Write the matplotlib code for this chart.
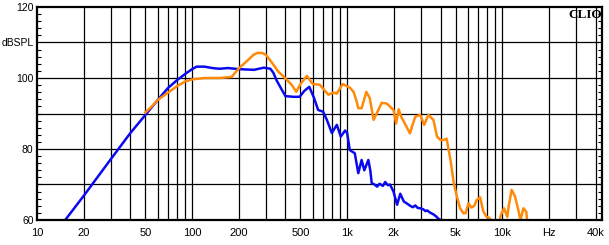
import matplotlib
matplotlib.use("Agg")
import matplotlib.pyplot as plt
from matplotlib.ticker import FixedLocator, NullFormatter

# ---- data ----
blue_f = [15.2, 20, 30, 40, 50, 60, 70, 80, 90, 100, 107, 120, 135, 150, 170, 200, 250, 290,
          320, 335, 350, 380, 400, 450, 494, 530, 570, 610, 650, 700, 740, 797, 830, 858, 910, 970,
          1000, 1040, 1120, 1180, 1240, 1290, 1370, 1410, 1440, 1500, 1560, 1620, 1700, 1760,
          1830, 1890, 1990, 2100, 2200, 2320, 2420, 2550, 2650, 2750, 2850, 2960, 3100, 3200,
          3280, 3450, 3600, 3750, 3870, 4050]
blue_db = [60.0, 66.8, 77.2, 84.5, 89.6, 93.8, 97.2, 99.4, 101.1, 102.5, 103.2, 103.2, 102.8,
           102.6, 102.8, 102.5, 102.3, 102.9, 102.6, 101.4, 99.4, 96.6, 94.9, 94.7, 94.7, 96.4, 97.5,
           94.5, 91.0, 90.5, 88.2, 84.5, 85.8, 86.8, 83.5, 85.2, 84.5, 79.7, 78.8, 73.2, 76.9,
           74.0, 76.9, 74.0, 70.4, 70.0, 69.4, 70.2, 69.6, 70.7, 69.8, 70.0, 68.0, 64.3, 67.4,
           65.2, 64.7, 64.0, 63.6, 64.1, 63.4, 63.3, 63.0, 62.5, 62.7, 62.0, 61.6, 61.0, 60.4,
           59.8]

orange_f = [50, 55, 60, 70, 80, 90, 100, 120, 150, 180, 200, 230, 250, 265, 285, 300, 330, 360,
            400, 440, 470, 500, 550, 600, 667, 700, 755, 815, 858, 935, 1040, 1100, 1150, 1180,
            1240, 1330, 1400, 1480, 1550, 1670, 1800, 1990, 2070, 2150, 2230, 2400, 2540, 2650,
            2750, 2960, 3140, 3340, 3600, 3800, 4000, 4170, 4380, 4640, 4870, 5100, 5350, 5620,
            5800, 6070, 6330, 6600, 6840, 7200, 7540, 7930, 8300, 8540, 8800, 9300, 9800, 10270,
            10780, 11000, 11500, 12100, 12700, 13100, 13700, 14300, 14600]
orange_db = [90.3, 92.0, 93.8, 95.9, 97.7, 99.0, 99.6, 100.0, 100.0, 100.3, 102.7, 105.1,
             106.6, 107.1, 107.0, 106.5, 104.1, 101.8, 99.9, 98.0, 96.1, 98.3, 100.6, 98.3, 98.1,
             97.0, 95.3, 95.9, 95.6, 98.3, 97.3, 96.1, 93.5, 91.5, 91.5, 96.1, 94.3, 88.2, 90.0,
             93.0, 92.8, 91.0, 87.2, 91.2, 89.1, 86.5, 84.4, 87.0, 89.1, 89.6, 86.8, 89.6, 88.2,
             83.5, 82.5, 82.5, 82.9, 76.9, 70.4, 66.6, 63.3, 61.9, 61.9, 64.7, 63.5, 64.0, 65.6,
             66.4, 62.5, 60.9, 60.5, 59.8, 58.5, 57.5, 61.4, 63.3, 60.9, 63.8, 68.5, 66.6, 62.8,
             60.0, 63.3, 62.3, 58.0]

x_grid = [20, 30, 40, 50, 60, 70, 80, 90, 100, 200, 300, 400, 500, 600, 700, 800, 900,
          1000, 2000, 3000, 4000, 5000, 6000, 7000, 8000, 9000, 10000, 20000, 30000, 40000]
x_label_pos = [10, 20, 50, 100, 200, 500, 1000, 2000, 5000, 10000, 20000, 40000]
x_labels = ["10", "20", "50", "100", "200", "500", "1k", "2k", "5k", "10k", "Hz", "40k"]
y_grid = [70, 80, 90, 100, 110]
y_label_pos = [60, 80, 100, 110, 120]
y_labels = ["60", "80", "100", "dBSPL", "120"]

# ---- figure ----
plt.rcParams['font.family'] = ['Liberation Sans', 'DejaVu Sans']
fig = plt.figure(figsize=(6.09, 2.45), dpi=100)
ax = fig.add_axes([37/609, 1-220/245, (602-37)/609, (220-7)/245])
ax.set_xscale('log')
ax.set_xlim(10, 44000)
ax.set_ylim(60, 120)

for xv in x_grid:
    ax.axvline(xv, color='black', lw=0.9, zorder=1)
for yv in y_grid:
    ax.axhline(yv, color='black', lw=0.9, zorder=1)

ax.plot(blue_f, blue_db, color='#0a0af0', lw=1.8, zorder=3)
ax.plot(orange_f, orange_db, color='#ff8a0a', lw=1.8, zorder=4)

ax.xaxis.set_major_locator(FixedLocator(x_label_pos))
ax.set_xticklabels(x_labels)
ax.xaxis.set_minor_locator(FixedLocator([]))
ax.xaxis.set_minor_formatter(NullFormatter())
ax.tick_params(axis='x', which='both', length=0, pad=6, labelsize=8, colors='black')

ax.yaxis.set_major_locator(FixedLocator(y_label_pos))
ax.set_yticklabels(y_labels)
ax.yaxis.set_minor_locator(FixedLocator(list(range(62, 120, 2))))
ax.tick_params(axis='y', which='major', length=0, pad=2.5, labelsize=7.5)
ax.tick_params(axis='y', which='minor', length=3, width=0.8, direction='in',
               left=True, right=True, color='black')

for s in ax.spines.values():
    s.set_linewidth(1.6)
    s.set_color('black')
    s.set_zorder(5)

ax.text(1.0, 0.99, "CLIO", transform=ax.transAxes, ha='right', va='top',
        fontsize=9.5, fontweight='bold', family=['Liberation Serif', 'DejaVu Serif'],
        zorder=6)

fig.savefig("out.png", dpi=100)
